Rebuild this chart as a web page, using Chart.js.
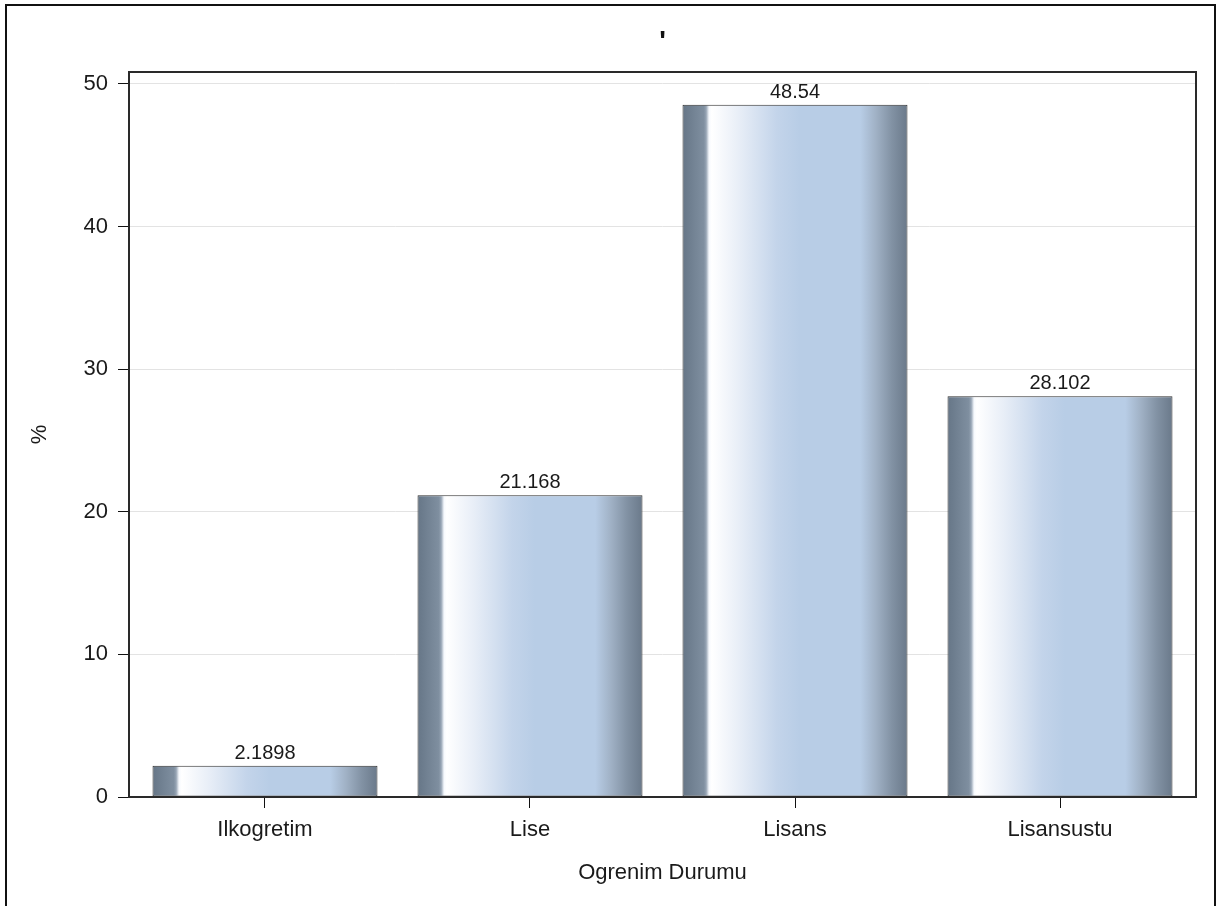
<!DOCTYPE html>
<html>
<head>
<meta charset="utf-8">
<title>Ogrenim Durumu</title>
<script src="https://cdn.jsdelivr.net/npm/chart.js@4/dist/chart.umd.min.js"></script>
<style>
  html, body { margin: 0; padding: 0; background: #fff; }
  canvas { display: block; }
</style>
</head>
<body>
<canvas id="chart" width="1217" height="906"></canvas>
<script>
// Education level shares (%)
const categories = ['Ilkogretim', 'Lise', 'Lisans', 'Lisansustu'];
const percentages = [2.1898, 21.168, 48.54, 28.102];
const valueLabels = ['2.1898', '21.168', '48.54', '28.102'];
const yTicks = [0, 10, 20, 30, 40, 50];
const chartTitle = "'";

const FONT = '"Liberation Sans", Arial, sans-serif';
const BAR_PCT = 0.849;

// Horizontal "cylinder" shading applied across each bar
function barGradient(ctx) {
  const chart = ctx.chart;
  const xs = chart.scales.x;
  if (!chart.chartArea || !xs) return '#b8cde6';
  const step = Math.abs(xs.getPixelForValue(1) - xs.getPixelForValue(0));
  const half = step * BAR_PCT / 2;
  const cx = xs.getPixelForValue(ctx.dataIndex);
  const g = chart.ctx.createLinearGradient(cx - half, 0, cx + half, 0);
  g.addColorStop(0.00, '#667687');
  g.addColorStop(0.095, '#7f8fa0');
  g.addColorStop(0.105, '#96a4b4');
  g.addColorStop(0.118, '#f6f9fd');
  g.addColorStop(0.13, '#ffffff');
  g.addColorStop(0.25, '#e8eef7');
  g.addColorStop(0.42, '#c3d4ea');
  g.addColorStop(0.52, '#b8cde6');
  g.addColorStop(0.79, '#b8cde6');
  g.addColorStop(0.86, '#a0b1c5');
  g.addColorStop(0.93, '#8292a4');
  g.addColorStop(1.00, '#6a798a');
  return g;
}

// Page border, title mark and plot frame
const framePlugin = {
  id: 'frame',
  beforeDraw(chart) {
    const c = chart.ctx;
    const a = chart.chartArea;
    c.save();
    c.fillStyle = '#fff';
    c.fillRect(0, 0, chart.width, chart.height);
    c.strokeStyle = '#111';
    c.lineWidth = 2;
    c.strokeRect(6, 5, 1209, 920);
    c.font = 'bold 28px ' + FONT;
    c.fillStyle = '#111';
    c.textAlign = 'center';
    c.textBaseline = 'alphabetic';
    c.fillText(chartTitle, (a.left + a.right) / 2, 50);
    c.restore();
  },
  afterDatasetsDraw(chart) {
    const a = chart.chartArea;
    const c = chart.ctx;
    c.save();
    c.strokeStyle = '#2a2a2a';
    c.lineWidth = 2;
    c.strokeRect(a.left, a.top, a.right - a.left, a.bottom - a.top);
    c.restore();
  }
};

// Value printed above each bar
const valueLabelPlugin = {
  id: 'valueLabels',
  afterDatasetsDraw(chart) {
    const c = chart.ctx;
    const meta = chart.getDatasetMeta(0);
    c.save();
    c.font = '20px ' + FONT;
    c.fillStyle = '#1a1a1a';
    c.textAlign = 'center';
    c.textBaseline = 'alphabetic';
    meta.data.forEach((bar, i) => {
      c.fillText(valueLabels[i], bar.x, bar.y - 7);
    });
    c.restore();
  }
};

new Chart(document.getElementById('chart'), {
  type: 'bar',
  data: {
    datasets: [{
      data: categories.map((c, i) => ({ x: i, y: percentages[i] })),
      backgroundColor: barGradient,
      borderColor: '#2e2e2e',
      borderWidth: 1,
      borderSkipped: false,
      categoryPercentage: 1,
      barPercentage: BAR_PCT
    }]
  },
  options: {
    responsive: false,
    animation: false,
    layout: { padding: { left: 0, right: 21, top: 72, bottom: 0 } },
    plugins: {
      legend: { display: false },
      tooltip: { enabled: false },
      title: { display: false }
    },
    scales: {
      x: {
        type: 'linear',
        offset: false,
        min: -0.5132,
        max: 3.5132,
        afterBuildTicks(scale) {
          scale.ticks = categories.map((c, i) => ({ value: i }));
        },
        afterFit(scale) { scale.height = 109; },
        grid: { display: true, offset: false, drawOnChartArea: false, drawTicks: true, tickLength: 11, tickColor: '#111', tickWidth: 1 },
        border: { display: false },
        ticks: {
          padding: 9,
          color: '#1a1a1a',
          font: { family: FONT, size: 22 },
          maxRotation: 0,
          autoSkip: false,
          callback: (v) => categories[v]
        },
        title: {
          display: true,
          text: 'Ogrenim Durumu',
          color: '#1a1a1a',
          font: { family: FONT, size: 22 },
          padding: { top: 0, bottom: 20 }
        }
      },
      y: {
        min: 0,
        max: 50.84,
        afterBuildTicks(scale) {
          scale.ticks = yTicks.map(v => ({ value: v }));
        },
        afterFit(scale) { scale.width = 129; },
        grid: { color: '#e3e3e3', lineWidth: 1, tickLength: 11, tickColor: '#111', tickWidth: 1 },
        border: { display: false },
        ticks: {
          padding: 10,
          color: '#1a1a1a',
          font: { family: FONT, size: 22 }
        },
        title: {
          display: true,
          text: '%',
          color: '#1a1a1a',
          font: { family: FONT, size: 22 },
          padding: { top: 27, bottom: 0 }
        }
      }
    }
  },
  plugins: [framePlugin, valueLabelPlugin]
});
</script>
</body>
</html>
